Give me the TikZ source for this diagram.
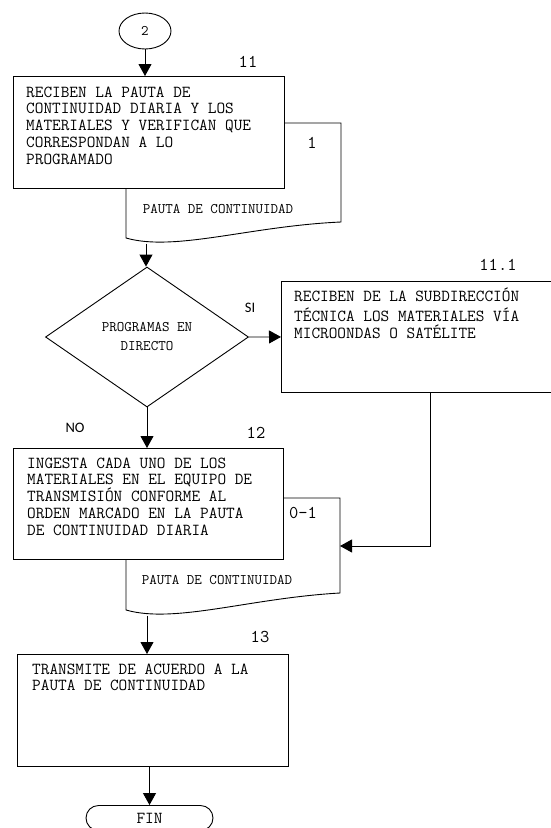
\documentclass[tikz,border=0pt]{standalone}
\usepackage{fontspec}
\newfontfamily\calibri{Carlito}
\usetikzlibrary{shapes.geometric,shapes.misc,arrows.meta}

\tikzset{
  caja/.style={draw, line width=0.9pt, fill=white, inner sep=0pt, anchor=north west},
  texto/.style={font=\ttfamily\fontsize{16.8}{16.9}\selectfont, align=left, inner sep=0pt, anchor=north west},
  chico/.style={font=\ttfamily\fontsize{14.6}{19}\selectfont, inner sep=0pt, align=center},
  numero/.style={font=\ttfamily\fontsize{18}{20}\selectfont, inner sep=0pt},
  resp/.style={font=\calibri\fontsize{14.5}{16}\selectfont, inner sep=0pt},
  flecha/.style={-{Triangle[width=13pt,length=12pt]}, line width=0.9pt},
  doc/.style={draw, line width=0.9pt, fill=white},
}

\begin{document}
\begin{tikzpicture}[x=1pt,y=-1pt]
	\useasboundingbox (0,0) rectangle (551,828);
	\clip (0,0) rectangle (551,828);
	% conector de entrada
	\node[draw, ellipse, line width=0.9pt, minimum width=52, minimum height=36, inner sep=0pt, chico] (ini) at (145,31) {2};
	% paso 11
	\draw[doc] (126,123) -- (341,123) -- (341,222) .. controls (250,226) and (175,252) .. (126,238) -- cycle;
	\node[caja, minimum width=271, minimum height=112] (c11) at (13,76) {};
	\node[texto] (t11) at (26,85) {\strut RECIBEN LA PAUTA DE\\CONTINUIDAD DIARIA Y LOS\\MATERIALES Y VERIFICAN QUE\\CORRESPONDAN A LO\\PROGRAMADO};
	\node[numero] (n11) at (248,62) {11};
	\node[numero] (n1) at (312,143) {1};
	\node[chico] (p11) at (218,209) {PAUTA DE CONTINUIDAD};
	\coordinate (pb11) at (146,243.5);
	% decision
	\node[draw, diamond, line width=0.9pt, minimum width=203, minimum height=140, chico] (dec) at (147,337) {PROGRAMAS EN\\DIRECTO};
	\node[resp] (si) at (250,308) {SI};
	\node[resp] (no) at (75,428) {NO};
	% paso 11.1
	\node[caja, minimum width=298, minimum height=111] (c111) at (281,281) {};
	\node[texto] (t111) at (294,288) {\strut RECIBEN DE LA SUBDIRECCIÓN\\TÉCNICA LOS MATERIALES VÍA\\MICROONDAS O SATÉLITE};
	\node[numero] (n111) at (498,265) {11.1};
	% paso 12
	\draw[doc] (126,498) -- (340,498) -- (340,593) .. controls (250,598) and (175,624) .. (126,610) -- cycle;
	\node[caja, minimum width=270, minimum height=111] (c12) at (13,448) {};
	\node[texto] (t12) at (27,456) {\strut INGESTA CADA UNO DE LOS\\MATERIALES EN EL EQUIPO DE\\TRANSMISIÓN CONFORME AL\\ORDEN MARCADO EN LA PAUTA\\DE CONTINUIDAD DIARIA};
	\node[numero] (n12) at (256,433) {12};
	\node[numero] (n01) at (303,513) {0-1};
	\node[chico] (p12) at (217,580) {PAUTA DE CONTINUIDAD};
	\coordinate (pb12) at (147,615.5);
	\coordinate (e12) at (340,546);
	% paso 13
	\node[caja, minimum width=271, minimum height=112] (c13) at (17,654) {};
	\node[texto] (t13) at (32,662) {\strut TRANSMITE DE ACUERDO A LA\\PAUTA DE CONTINUIDAD};
	\node[numero] (n13) at (260,637) {13};
	% fin
	\node[draw, rounded rectangle, line width=0.9pt, minimum width=127, minimum height=25, inner sep=0pt, texto, anchor=center] (fin) at (149.5,818) {FIN};
	% flechas
	\draw[flecha] (ini.south) -- (ini.south |- c11.north);
	\draw[flecha] (pb11) -- (pb11 |- dec.north);
	\draw[flecha] (dec.east) -- (c111.west);
	\draw[flecha] (dec.south) -- (dec.south |- c12.north);
	\draw[flecha] (c111.south) |- (e12);
	\draw[flecha] (pb12) -- (pb12 |- c13.north);
	\draw[flecha] (fin.north |- c13.south) -- (fin.north);
\end{tikzpicture}
\end{document}
